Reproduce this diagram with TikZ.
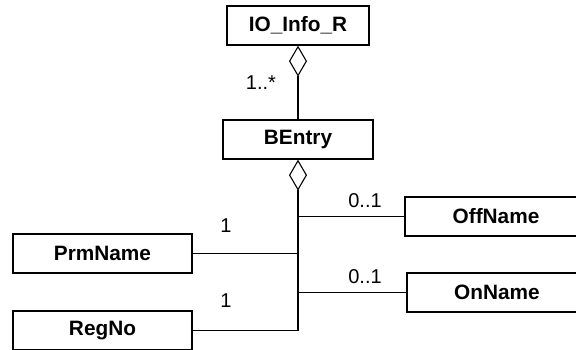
\documentclass[tikz,border=0pt]{standalone}
\usepackage{fontspec}
\setmainfont{Liberation Sans}
\usetikzlibrary{arrows.meta}
\begin{document}
\begin{tikzpicture}[x=1pt,y=-1pt,
  classbox/.style={draw,line width=1.3pt,inner sep=0pt,minimum height=39pt,
    font=\fontsize{20.8}{24}\selectfont\bfseries},
  link/.style={line width=1.1pt},
  agg/.style={link,{Diamond[open,length=31pt,width=18pt,line width=1.1pt]}-},
  mult/.style={font=\fontsize{20}{23}\selectfont}]
\useasboundingbox (0,0) rectangle (576,350);
\clip (0,0) rectangle (576,350);
% classes
\node[classbox,minimum width=142pt] (io) at (298,25.5) {IO\_Info\_R};
\node[classbox,minimum width=150pt] (be) at (298,139.5) {BEntry};
\node[classbox,minimum width=179pt] (prm) at (102.5,253.5) {PrmName};
\node[classbox,minimum width=179pt] (reg) at (102.5,330.5) {RegNo};
\node[classbox,minimum width=182pt] (off) at (496,216.5) {OffName};
\node[classbox,minimum width=180pt] (on) at (497,292.5) {OnName};
% aggregations
\draw[agg] (io.south) -- (be.north);
\coordinate (trunk) at (be.south |- reg.east);
\draw[agg] (be.south) -- (trunk) -- (reg.east);
\draw[link] (prm.east) -- (prm.east -| trunk);
\draw[link] (off.west -| trunk) -- (off.west);
\draw[link] (on.west -| trunk) -- (on.west);
% multiplicities
\node[mult] (m1) at (261,83) {1..*};
\node[mult] (m2) at (226,226) {1};
\node[mult] (m3) at (226,301) {1};
\node[mult] (m4) at (365,201) {0..1};
\node[mult] (m5) at (365,277) {0..1};
\end{tikzpicture}
\end{document}
